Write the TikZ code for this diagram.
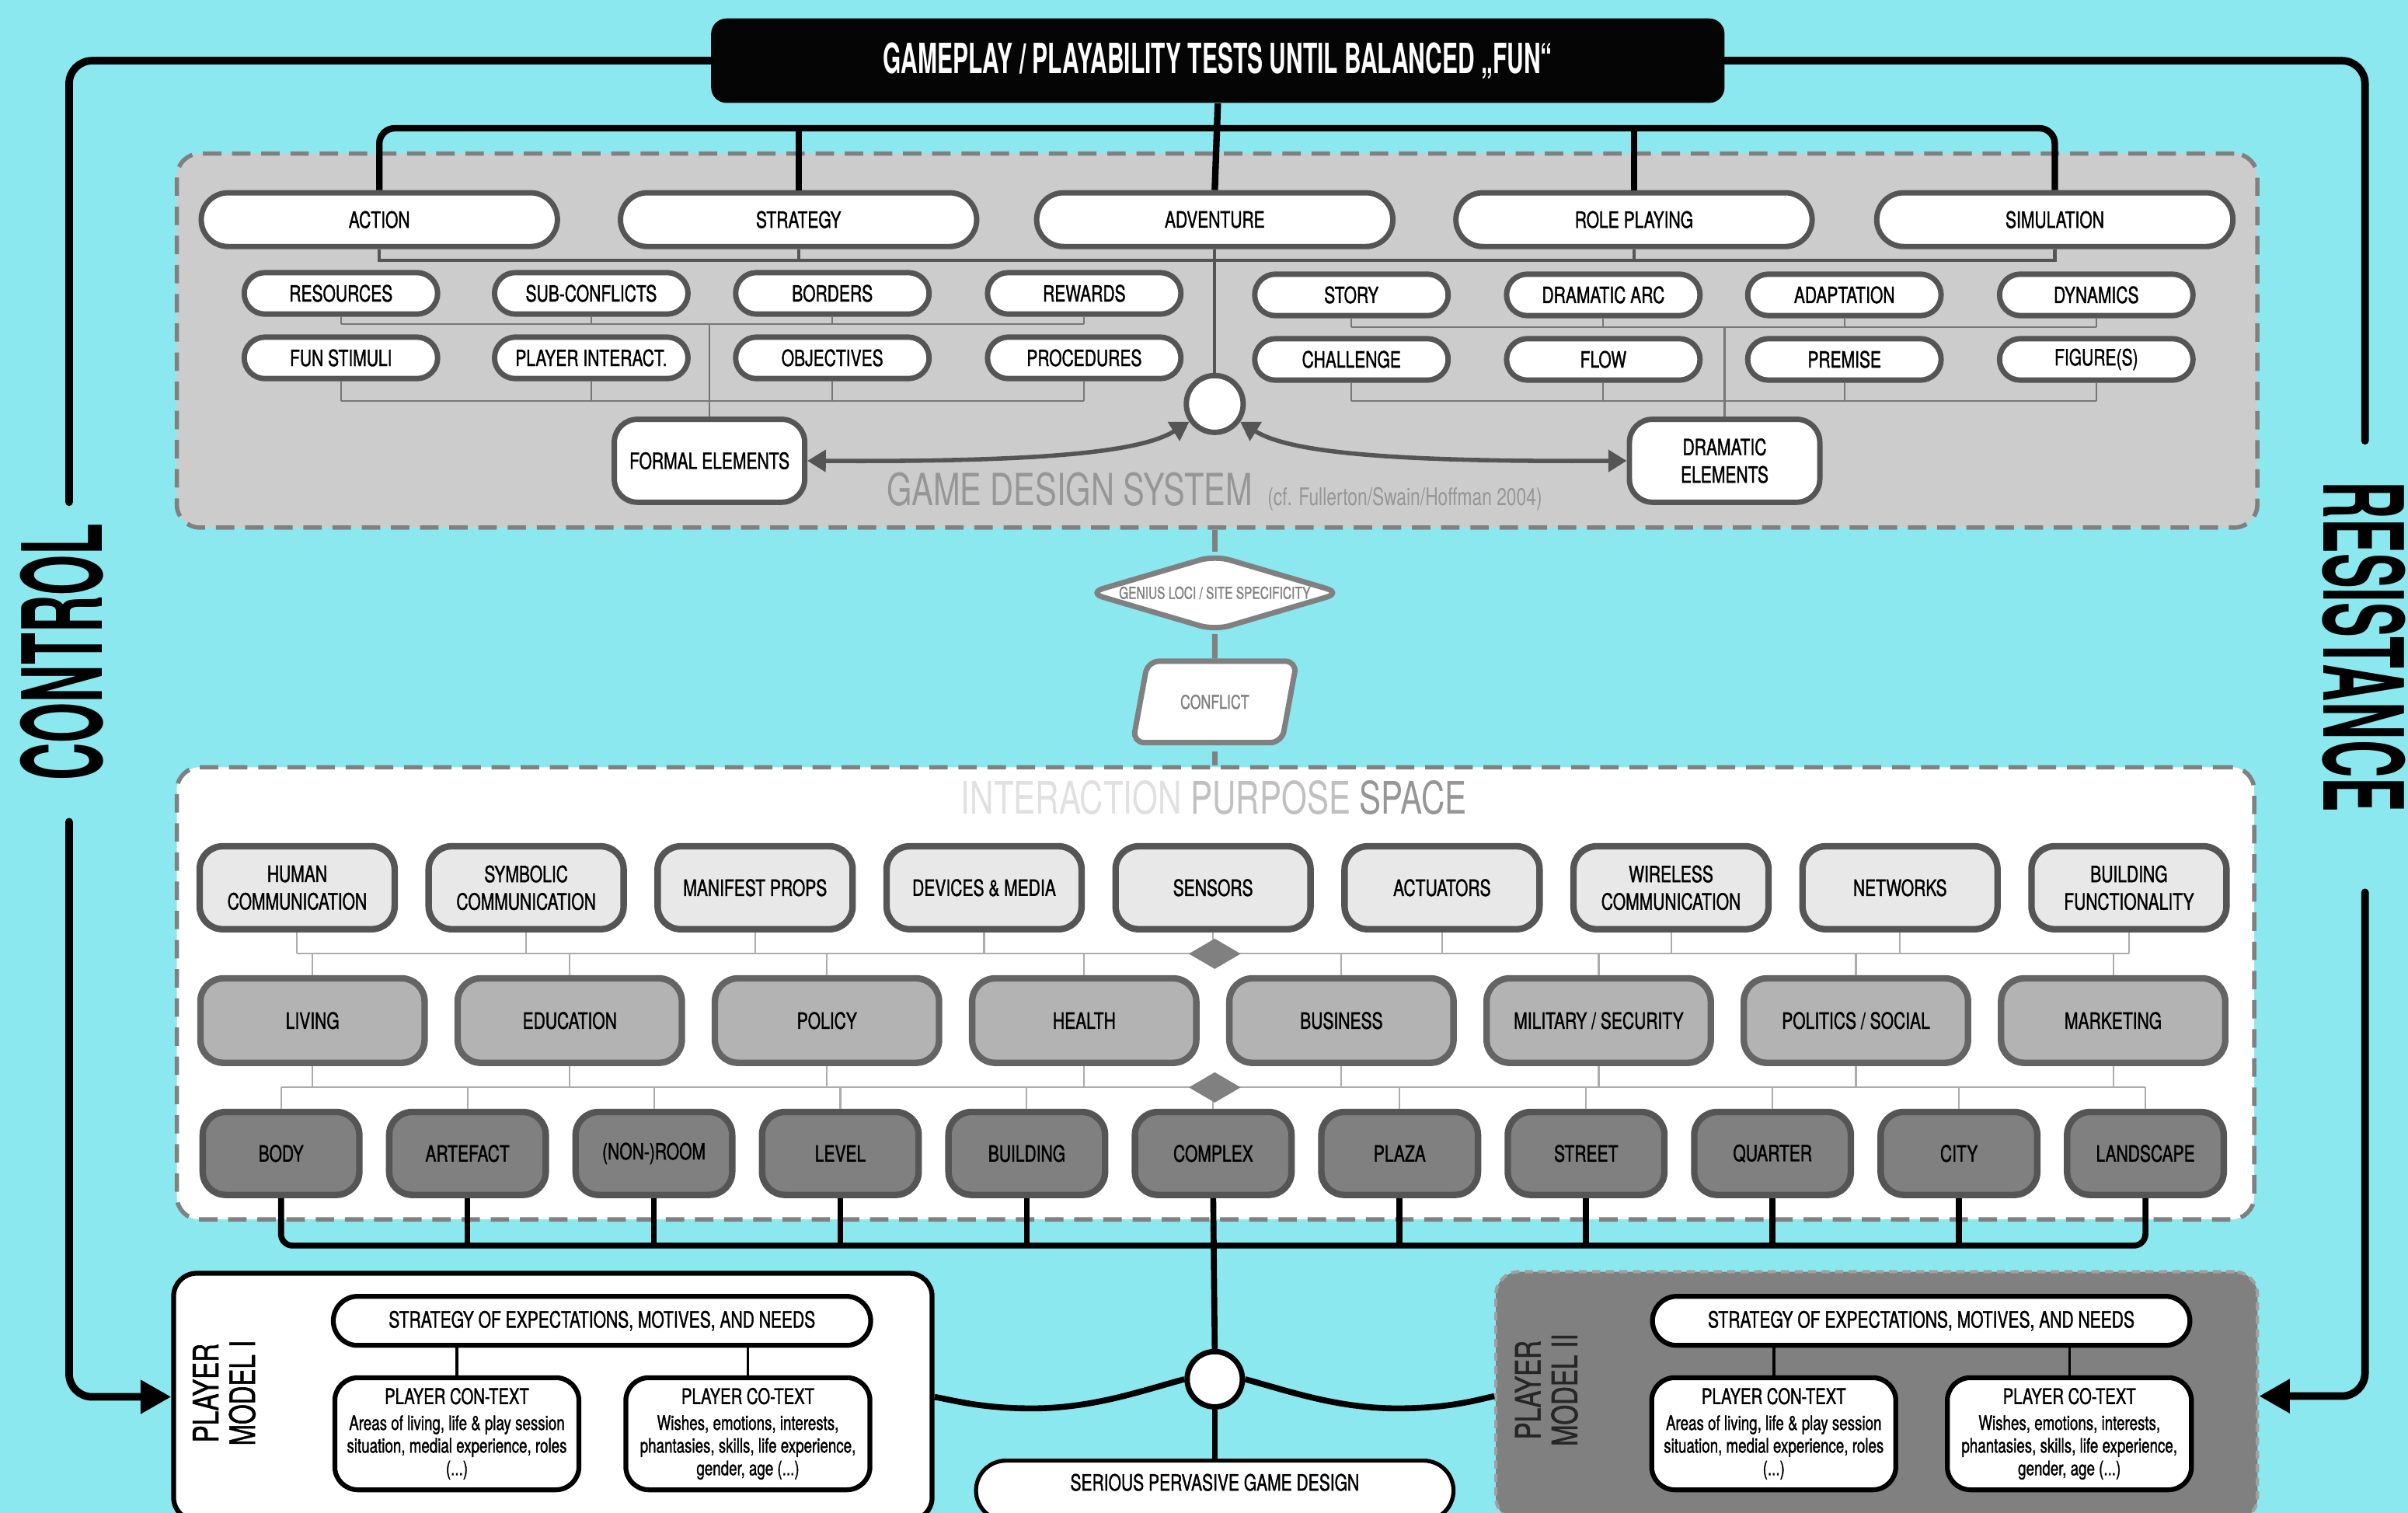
\documentclass[tikz,border=0pt]{standalone}
\usepackage{fontspec}
\setmainfont{TeX Gyre Heros}[FakeStretch=0.73, FakeBold=1.2]
\newfontfamily\lightfont{TeX Gyre Heros}[FakeStretch=0.73]
\newfontfamily\headfont{TeX Gyre Heros}[FakeStretch=0.56]
\newfontfamily\sidefont{TeX Gyre Heros}[FakeStretch=0.47]
\usepackage{tikz}
\usetikzlibrary{shapes,arrows.meta,positioning,calc}

\definecolor{bgcyan}{RGB}{139,232,239}
\definecolor{gdsgray}{RGB}{204,204,204}
\definecolor{dashgray}{RGB}{128,128,128}
\definecolor{rimgray}{RGB}{85,85,85}
\definecolor{rimB}{RGB}{100,100,100}
\definecolor{fillA}{RGB}{232,232,232}
\definecolor{fillB}{RGB}{179,179,179}
\definecolor{fillC}{RGB}{128,128,128}
\definecolor{titlegray}{RGB}{150,150,150}
\definecolor{ipslight}{RGB}{224,224,224}
\definecolor{ipsmid}{RGB}{192,192,192}

\begin{document}
\begin{tikzpicture}[x=0.02cm, y=-0.02cm,
    every node/.style={inner sep=0pt, align=center, font=\fontsize{8.3}{10.2}\selectfont},
    genre/.style={draw=rimgray, line width=2pt, fill=white, rounded corners=0.35cm,
        minimum width=4.64cm, minimum height=0.7cm},
    subpill/.style={draw=rimgray, line width=2pt, fill=white, rounded corners=0.27cm,
        minimum width=2.52cm, minimum height=0.54cm},
    elembox/.style={draw=rimgray, line width=2pt, fill=white, rounded corners=0.3cm,
        minimum width=2.48cm, minimum height=1.08cm},
    rowA/.style={draw=rimgray, line width=2.4pt, fill=fillA, rounded corners=0.3cm,
        minimum width=2.54cm, minimum height=1.08cm},
    rowB/.style={draw=rimB, line width=2.4pt, fill=fillB, rounded corners=0.3cm,
        minimum width=2.92cm, minimum height=1.1cm},
    rowC/.style={draw=rimgray, line width=2.4pt, fill=fillC, rounded corners=0.3cm,
        minimum width=2.04cm, minimum height=1.08cm},
    spacebox/.style={draw=dashgray, line width=1.6pt, dash pattern=on 0.24cm off 0.14cm,
        rounded corners=0.3cm},
    pmpill/.style={draw=black, line width=1.8pt, fill=white, rounded corners=0.32cm,
        minimum width=7cm, minimum height=0.64cm},
    ctxbox/.style={draw=black, line width=1.8pt, fill=white, rounded corners=0.3cm,
        minimum width=3.18cm, minimum height=1.46cm, font=\fontsize{7.4}{8.4}\selectfont},
    pmtitle/.style={rotate=90, font=\fontsize{13}{13.6}\selectfont},
    blkline/.style={draw=black, line width=2.4pt},
    loopline/.style={draw=black, line width=2.8pt, line cap=round, rounded corners=0.3cm},
    busline/.style={draw=black, line width=2.2pt},
    grayline/.style={draw=rimgray, line width=1.2pt},
    thinline/.style={draw=rimgray!80, line width=0.6pt},
    ipsline/.style={draw=gray!65, line width=0.6pt},
    midline/.style={draw=dashgray, line width=2pt},
    gdsarrow/.style={draw=rimgray, line width=1.6pt,
        arrows={Triangle[length=0.24cm,width=0.28cm]-Triangle[length=0.24cm,width=0.28cm]}},
    looparrow/.style={arrows={-Triangle[length=0.4cm,width=0.42cm]}}
]
    % Canvas
    \useasboundingbox (0,0) rectangle (1568,985);
    \clip (0,0) rectangle (1568,985);
    \fill[bgcyan] (0,0) rectangle (1568,985);

    % Space boxes
    \node[spacebox, fill=gdsgray, minimum width=27.1cm, minimum height=4.87cm] (gds) at (792.5,221.75) {};
    \node[spacebox, fill=white, minimum width=27.06cm, minimum height=5.89cm] (ips) at (791.5,646.75) {};
    \node[draw=black, line width=1.8pt, fill=white, rounded corners=0.3cm,
        minimum width=9.88cm, minimum height=3.22cm] (pm1) at (360,909.5) {};
    \node[draw=dashgray!75!white, line width=1.2pt, dash pattern=on 3pt off 2pt, fill=fillC,
        rounded corners=0.3cm, minimum width=9.92cm, minimum height=3.24cm] (pm2) at (1222,909) {};

    % Header
    \node[fill=black!98, rounded corners=0.2cm, minimum width=13.2cm, minimum height=1.1cm, text=white,
        font=\headfont\bfseries\fontsize{15.4}{15.4}\selectfont] (hdr) at (793,39.5)
        {GAMEPLAY / PLAYABILITY TESTS UNTIL BALANCED „FUN“};

    % Control / resistance loop
    \node[rotate=90, font=\sidefont\bfseries\fontsize{41}{41}\selectfont] (ctrl) at (40.5,424.5) {CONTROL};
    \node[rotate=-90, font=\sidefont\bfseries\fontsize{41}{41}\selectfont] (resist) at (1539.5,421) {RESISTANCE};
    \coordinate (ctlA) at (45,327);
    \coordinate (ctlB) at (45,535);
    \coordinate (resA) at (1540,287);
    \coordinate (resB) at (1540,581);
    \draw[loopline] (hdr.west) -| (ctlA);
    \draw[loopline, looparrow] (ctlB) |- (pm1.west);
    \draw[loopline] (hdr.east) -| (resA);
    \draw[loopline, looparrow] (resB) |- (pm2.east);

    % Genres
    \foreach \x/\lab [count=\i] in {247/ACTION, 520/STRATEGY, 791/ADVENTURE, 1064/ROLE PLAYING, 1338/SIMULATION}
        \node[genre] (g\i) at (\x,143) {\lab};
    \coordinate (tbus) at (791,83.5);
    \coordinate (gbus) at (791,169.5);
    \draw[blkline] (hdr.south) -- (g3.north);
    \draw[blkline, rounded corners=0.2cm] (g1.north) |- (tbus) -| (g5.north);
    \draw[blkline] (g2.north) -- (g2.north |- tbus);
    \draw[blkline] (g4.north) -- (g4.north |- tbus);
    \draw[grayline] (g1.south) |- (gbus) -| (g5.south);
    \draw[grayline] (g2.south) -- (g2.south |- gbus);
    \draw[grayline] (g4.south) -- (g4.south |- gbus);

    % Formal elements
    \foreach \x/\lab [count=\i] in {222/RESOURCES, 385/SUB-CONFLICTS, 542/BORDERS, 706/REWARDS}
        \node[subpill] (fa\i) at (\x,191) {\lab};
    \foreach \x/\lab [count=\i] in {222/FUN STIMULI, 385/PLAYER INTERACT., 542/OBJECTIVES, 706/PROCEDURES}
        \node[subpill] (fb\i) at (\x,233) {\lab};
    \node[elembox] (formal) at (462,300) {FORMAL ELEMENTS};
    \coordinate (fl1) at (462,211);
    \coordinate (fl2) at (462,261);
    \foreach \i in {1,...,4} {
        \draw[thinline] (fa\i.south) -- (fa\i.south |- fl1);
        \draw[thinline] (fb\i.south) -- (fb\i.south |- fl2);
    }
    \draw[thinline] (fa1.south |- fl1) -- (fa4.south |- fl1);
    \draw[thinline] (fb1.south |- fl2) -- (fb4.south |- fl2);
    \draw[thinline] (fl1) -- (formal.north);

    % Dramatic elements
    \foreach \x/\lab [count=\i] in {880/STORY, 1044/DRAMATIC ARC, 1201/ADAPTATION, 1365/DYNAMICS}
        \node[subpill] (da\i) at (\x,192) {\lab};
    \foreach \x/\lab [count=\i] in {880/CHALLENGE, 1044/FLOW, 1201/PREMISE, 1365/FIGURE(S)}
        \node[subpill] (db\i) at (\x,234) {\lab};
    \node[elembox] (dramatic) at (1123,300) {DRAMATIC\\ELEMENTS};
    \coordinate (dl1) at (1123,213);
    \coordinate (dl2) at (1123,261);
    \foreach \i in {1,...,4} {
        \draw[thinline] (da\i.south) -- (da\i.south |- dl1);
        \draw[thinline] (db\i.south) -- (db\i.south |- dl2);
    }
    \draw[thinline] (da1.south |- dl1) -- (da4.south |- dl1);
    \draw[thinline] (db1.south |- dl2) -- (db4.south |- dl2);
    \draw[thinline] (dl1) -- (dramatic.north);

    % Design hub
    \node[circle, draw=rimgray, line width=2pt, fill=white, minimum size=0.74cm] (hub) at (791,263) {};
    \draw[grayline] (g3.south) -- (hub.north);
    \draw[gdsarrow] (formal.east) .. controls (690,301) and (745,293) .. (hub.215);
    \draw[gdsarrow] (hub.325) .. controls (837,293) and (892,301) .. (dramatic.west);
    \node[anchor=base west, text=titlegray, font=\lightfont\fontsize{16.4}{16.4}\selectfont] (gdstitle) at (577,329) {GAME DESIGN SYSTEM};
    \node[anchor=base west, text=titlegray, font=\lightfont\fontsize{9}{9}\selectfont] (gdscite) at (825,329) {(cf. Fullerton/Swain/Hoffman 2004)};

    % Site and conflict
    \node[diamond, aspect=3.3, draw=dashgray, line width=2pt, fill=white, rounded corners=0.2cm,
        minimum width=3.32cm, minimum height=1cm, text=dashgray, font=\fontsize{6.1}{7}\selectfont] (genius) at (791,386)
        {GENIUS LOCI / SITE SPECIFICITY};
    \node[trapezium, trapezium left angle=62, trapezium right angle=118, trapezium stretches=true,
        draw=dashgray, line width=2pt, fill=white, rounded corners=0.15cm, minimum width=2.14cm,
        minimum height=1.06cm, text=dashgray, font=\fontsize{7}{8}\selectfont] (conflict) at (791,457) {CONFLICT};
    \draw[midline] (genius.north |- gds.south) -- (genius.north);
    \draw[midline] (genius.south) -- (conflict.north);
    \draw[midline, shorten <=0.08cm] (conflict.south) -- (conflict.south |- ips.north);

    % Interaction purpose space
    \node[anchor=base west, font=\lightfont\fontsize{16.6}{16.6}\selectfont] (ipstitle) at (625.5,530)
        {\textcolor{ipslight}{INTERACTION} \textcolor{ipsmid}{PURPOSE} \textcolor{titlegray}{SPACE}};
    \foreach \lab [count=\i] in {HUMAN\\COMMUNICATION, SYMBOLIC\\COMMUNICATION, MANIFEST PROPS, DEVICES \& MEDIA,
        SENSORS, ACTUATORS, WIRELESS\\COMMUNICATION, NETWORKS, BUILDING\\FUNCTIONALITY}
        \node[rowA] (a\i) at ({193.5+149.1*(\i-1)},578) {\lab};
    \foreach \lab [count=\i] in {LIVING, EDUCATION, POLICY, HEALTH, BUSINESS, MILITARY / SECURITY,
        POLITICS / SOCIAL, MARKETING}
        \node[rowB] (b\i) at ({203.5+167.5*(\i-1)},664.5) {\lab};
    \foreach \lab [count=\i] in {BODY, ARTEFACT, {(NON-)ROOM}, LEVEL, BUILDING, COMPLEX, PLAZA, STREET,
        QUARTER, CITY, LANDSCAPE}
        \node[rowC] (c\i) at ({183+121.4*(\i-1)},751) {\lab};
    \coordinate (lvl1) at (791,621);
    \coordinate (lvl2) at (791,708);
    \draw[ipsline] (a1.south |- lvl1) -- (a9.south |- lvl1);
    \draw[ipsline] (c1.north |- lvl2) -- (c11.north |- lvl2);
    \foreach \i in {1,...,9}
        \draw[ipsline] (a\i.south) -- (a\i.south |- lvl1);
    \foreach \i in {1,...,8} {
        \draw[ipsline] (b\i.north) -- (b\i.north |- lvl1);
        \draw[ipsline] (b\i.south) -- (b\i.south |- lvl2);
    }
    \foreach \i in {1,...,11}
        \draw[ipsline] (c\i.north) -- (c\i.north |- lvl2);
    \node[diamond, fill=fillC, minimum width=0.68cm, minimum height=0.4cm] (dm1) at (lvl1) {};
    \node[diamond, fill=fillC, minimum width=0.68cm, minimum height=0.4cm] (dm2) at (lvl2) {};

    % Scale bus
    \coordinate (cbus) at (791,811);
    \draw[busline, rounded corners=0.15cm] (c1.south) |- (cbus) -| (c11.south);
    \foreach \i in {2,3,4,5,7,8,9,10}
        \draw[busline] (c\i.south) -- (c\i.south |- cbus);

    % Player models
    \node[circle, draw=black, line width=2pt, fill=white, minimum size=0.72cm] (pc) at (791,898) {};
    \node[draw=black, line width=1.5pt, fill=white, rounded corners=0.39cm, minimum width=6.22cm,
        minimum height=0.78cm, text height=0.2cm, text depth=0.2cm] (spgd) at (791,970.5) {SERIOUS PERVASIVE GAME DESIGN};
    \draw[busline] (c6.south) -- (pc.north);
    \draw[busline] (pc.south) -- (spgd.north);
    \draw[busline] (pc.west) .. controls (745,905) and (712,917) .. (672,917)
        .. controls (640,917) and (622,912) .. (pm1.east);
    \draw[busline] (pc.east) .. controls (837,905) and (870,917) .. (910,917)
        .. controls (942,917) and (960,912) .. (pm2.west);

    \node[pmtitle] (pmt1) at (146,907) {PLAYER\\MODEL I};
    \node[pmpill] (st1) at (392,860) {STRATEGY OF EXPECTATIONS, MOTIVES, AND NEEDS};
    \node[ctxbox] (cx1) at (297.5,933.5) {{\fontsize{8}{9}\selectfont PLAYER CON-TEXT}\\[1.2pt]
        Areas of living, life \& play session\\situation, medial experience, roles\\(...)};
    \node[ctxbox] (cy1) at (487,933.5) {{\fontsize{8}{9}\selectfont PLAYER CO-TEXT}\\[1.2pt]
        Wishes, emotions, interests,\\phantasies, skills, life experience,\\gender, age (...)};
    \draw[black, line width=1pt] (cx1.north) -- (cx1.north |- st1.south);
    \draw[black, line width=1pt] (cy1.north) -- (cy1.north |- st1.south);

    \node[pmtitle, text=black!85] (pmt2) at (1007,905) {PLAYER\\MODEL II};
    \node[pmpill] (st2) at (1251,860) {STRATEGY OF EXPECTATIONS, MOTIVES, AND NEEDS};
    \node[ctxbox] (cx2) at (1155,933.5) {{\fontsize{8}{9}\selectfont PLAYER CON-TEXT}\\[1.2pt]
        Areas of living, life \& play session\\situation, medial experience, roles\\(...)};
    \node[ctxbox] (cy2) at (1347.5,933.5) {{\fontsize{8}{9}\selectfont PLAYER CO-TEXT}\\[1.2pt]
        Wishes, emotions, interests,\\phantasies, skills, life experience,\\gender, age (...)};
    \draw[black, line width=1pt] (cx2.north) -- (cx2.north |- st2.south);
    \draw[black, line width=1pt] (cy2.north) -- (cy2.north |- st2.south);
\end{tikzpicture}
\end{document}
